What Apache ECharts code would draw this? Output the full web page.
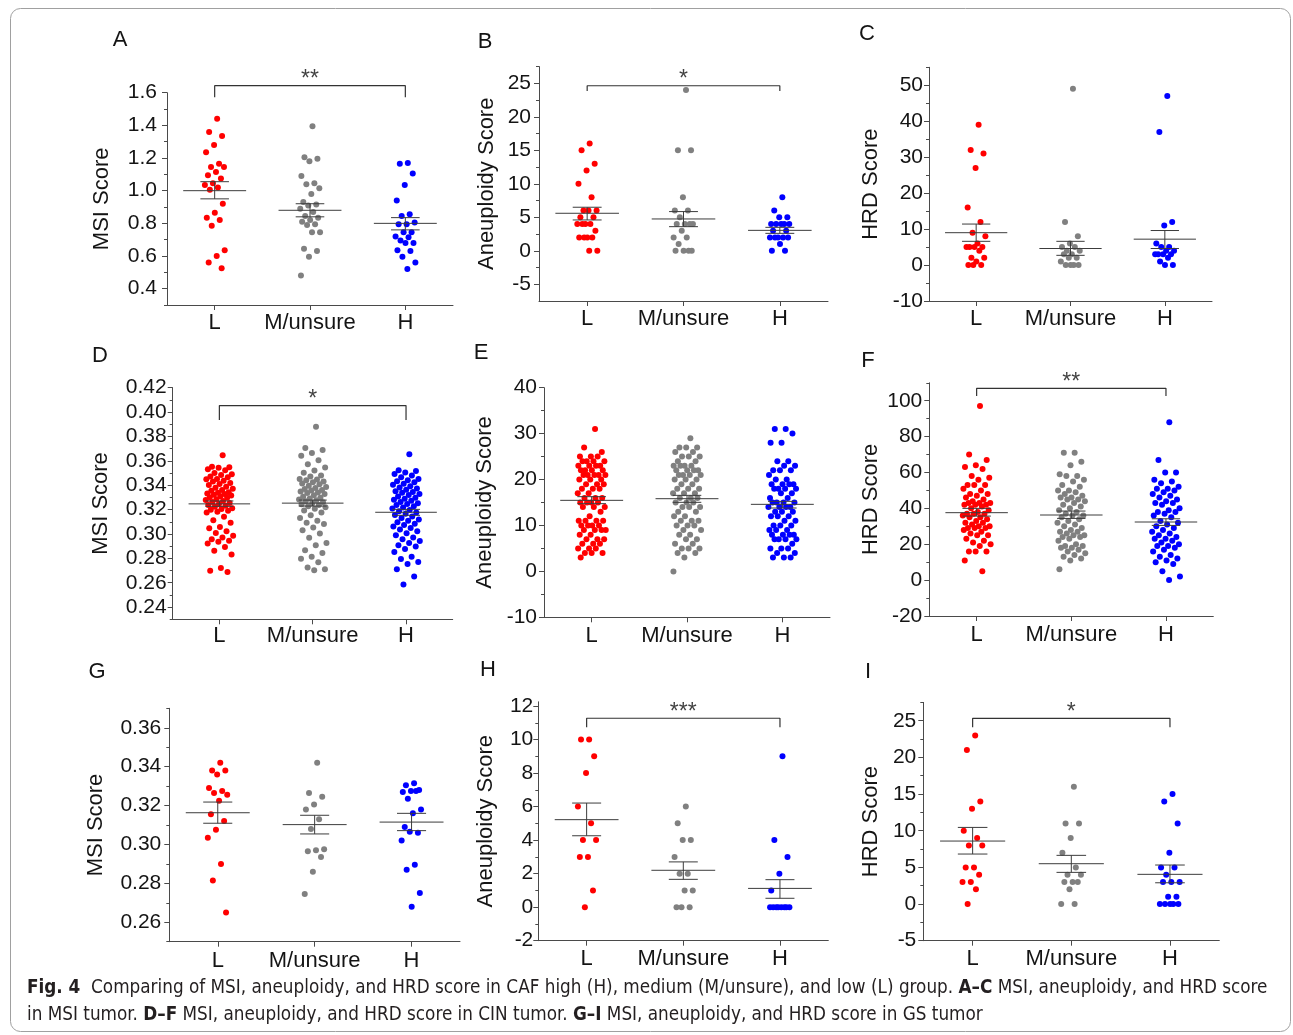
<!DOCTYPE html>
<html><head><meta charset="utf-8">
<script src="https://cdn.jsdelivr.net/npm/echarts@6/dist/echarts.min.js"></script>
<style>html,body{margin:0;padding:0;background:#fff}#c{width:1293px;height:1035px}</style>
</head><body><div id="c"></div>
<script>
// ---------------- data ----------------
const categories = ['L', 'M/unsure', 'H'];

// A: MSI score, MSI tumor
const A_L = [1.44,1.36,1.335,1.28,1.235,1.165,1.145,1.145,1.115,1.095,1.075,1.045,1.035,1.02,1.005,0.92,0.865,0.835,0.82,0.785,0.635,0.60,0.56,0.525];
const A_M = [1.395,1.205,1.195,1.18,1.09,1.045,1.04,1.015,0.98,0.93,0.915,0.91,0.89,0.87,0.845,0.835,0.82,0.81,0.795,0.79,0.745,0.745,0.645,0.63,0.595,0.48];
const A_H = [1.17,1.165,1.105,1.035,0.94,0.855,0.845,0.805,0.795,0.795,0.745,0.745,0.72,0.715,0.695,0.68,0.68,0.635,0.63,0.595,0.56,0.52];
const A_mean = [1.0, 0.88, 0.80], A_hi = [1.055, 0.92, 0.835], A_lo = [0.95, 0.84, 0.76];
const A_ticks = [0.4,0.6,0.8,1.0,1.2,1.4,1.6], A_minor = [0.3,0.5,0.7,0.9,1.1,1.3,1.5];
const A_bracket = [1.643, 1.572], A_stars = '**';

// B: Aneuploidy score, MSI tumor
const B_L = [16,15,13,12,10,8,6,6,6,5,5,4,4,4,4,3,2,2,2,2,0,0];
const B_M = [24,15,15,8,6,6,5,4,4,4,4,3,2,2,1,0,0,0,0];
const B_H = [8,6,5,5,4,4,4,4,4,3,3,2,2,2,2,2,1,0,0];
const B_mean = [5.6, 4.75, 3.05], B_hi = [6.5, 5.85, 3.5], B_lo = [4.6, 3.6, 2.6];
const B_ticks = [-5,0,5,10,15,20,25], B_minor = [-2.5,2.5,7.5,12.5,17.5,22.5,27.5];
const B_bracket = [24.64, 23.85], B_stars = '*';

// C: HRD score, MSI tumor
const C_L = [39,32,31,27,16,12,9,8,6,5,5,5,5,4,2,2,1,0,0,0];
const C_M = [49,12,8,6,5,5,4,4,3,3,2,2,1,0,0,0,0];
const C_H = [47,37,12,11,6,5,5,4,4,3,3,3,3,2,1,0,0];
const C_mean = [9.0, 4.6, 7.2], C_hi = [11.4, 6.6, 9.6], C_lo = [6.6, 2.7, 4.6];
const C_ticks = [-10,0,10,20,30,40,50], C_minor = [-5,5,15,25,35,45,55];

// D: MSI score, CIN tumor
const D_L = [0.3645,0.3552,0.3547,0.3543,0.3531,0.3522,0.3501,0.3489,0.3484,0.3471,0.3466,0.3452,0.3449,0.3437,0.3431,0.3418,0.3409,0.3401,0.3387,0.3379,0.3372,0.3360,0.3354,0.3343,0.3339,0.3333,0.3328,0.3321,0.3316,0.3309,0.3302,0.3297,0.3285,0.3279,0.3271,0.3263,0.3255,0.3246,0.3238,0.3231,0.3224,0.3212,0.3204,0.3199,0.3191,0.3183,0.3177,0.3141,0.3113,0.3092,0.3058,0.3046,0.3022,0.3009,0.2986,0.2971,0.2957,0.2944,0.2936,0.2921,0.2894,0.2862,0.2831,0.2721,0.2699,0.2688];
const D_M = [0.3880,0.3706,0.3688,0.3664,0.3641,0.3604,0.3572,0.3546,0.3521,0.3502,0.3479,0.3471,0.3452,0.3446,0.3440,0.3431,0.3424,0.3415,0.3407,0.3396,0.3386,0.3378,0.3369,0.3361,0.3356,0.3349,0.3341,0.3336,0.3327,0.3318,0.3306,0.3297,0.3291,0.3283,0.3276,0.3268,0.3261,0.3252,0.3244,0.3237,0.3228,0.3219,0.3207,0.3192,0.3176,0.3154,0.3131,0.3108,0.3093,0.3082,0.3054,0.3031,0.3004,0.2968,0.2925,0.2908,0.2866,0.2843,0.2813,0.2796,0.2768,0.2724,0.2711,0.2703];
const D_H = [0.3655,0.3523,0.3517,0.3504,0.3493,0.3479,0.3466,0.3450,0.3441,0.3433,0.3425,0.3412,0.3403,0.3392,0.3381,0.3373,0.3362,0.3351,0.3345,0.3338,0.3328,0.3319,0.3307,0.3298,0.3288,0.3281,0.3272,0.3263,0.3252,0.3246,0.3237,0.3227,0.3218,0.3208,0.3197,0.3187,0.3176,0.3165,0.3155,0.3143,0.3132,0.3119,0.3109,0.3097,0.3083,0.3073,0.3062,0.3048,0.3036,0.3022,0.3005,0.2989,0.2972,0.2957,0.2942,0.2926,0.2907,0.2897,0.2876,0.2852,0.2813,0.2794,0.2771,0.2753,0.2711,0.2652,0.2586];
const D_mean = [0.3247, 0.3253, 0.3178], D_hi = [0.3271, 0.3278, 0.3202], D_lo = [0.3227, 0.3229, 0.3153];
const D_ticks = [0.24,0.26,0.28,0.30,0.32,0.34,0.36,0.38,0.40,0.42], D_minor = [0.23,0.25,0.27,0.29,0.31,0.33,0.35,0.37,0.39,0.41];
const D_bracket = [0.4053, 0.3936], D_stars = '*';

// E: Aneuploidy score, CIN tumor
const E_L = [31,27,26,25,25,25,24,24,24,24,23,23,23,23,22,22,22,22,21,21,21,21,21,20,20,20,19,19,19,18,18,18,17,17,16,16,16,15,15,15,15,14,14,14,13,12,11,11,11,11,10,10,10,10,9,9,9,9,8,8,7,7,7,6,6,6,5,5,5,4,4,4,3];
const E_M = [29,27,27,27,26,26,25,25,25,24,24,23,23,23,23,22,22,22,22,21,21,21,21,20,20,20,19,19,18,18,18,17,17,17,16,16,16,15,15,15,14,14,14,13,13,12,12,11,11,11,10,10,10,9,9,8,8,7,7,6,6,5,5,5,4,4,3,0];
const E_H = [31,31,30,28,28,24,24,23,23,22,22,22,21,20,20,19,19,19,19,18,18,18,18,17,17,16,16,15,15,15,15,14,14,14,14,13,13,13,12,12,12,11,11,10,10,10,9,9,9,8,8,8,8,7,7,7,7,6,5,5,5,4,4,3,3,3];
const E_mean = [15.47, 15.83, 14.6], E_hi = [16.27, 16.56, 15.25], E_lo = [14.75, 15.04, 13.8];
const E_ticks = [-10,0,10,20,30,40], E_minor = [-5,5,15,25,35];

// F: HRD score, CIN tumor
const F_L = [97,70,67,64,63,62,58,57,56,53,53,53,51,50,48,48,47,46,45,44,43,43,43,42,42,42,41,40,39,38,37,37,37,36,35,35,34,33,32,32,31,30,30,29,29,29,28,27,26,25,25,23,22,21,20,19,16,16,16,11,5];
const F_M = [71,71,66,64,59,58,58,56,55,53,52,50,50,49,48,47,46,46,45,45,44,43,42,41,40,39,38,37,36,36,35,34,33,32,31,30,29,28,27,27,26,25,25,24,24,23,22,20,19,19,18,18,17,16,15,14,13,12,11,6];
const F_H = [88,67,60,60,56,55,54,52,51,51,50,49,48,47,46,45,44,43,43,42,40,39,38,38,37,36,35,33,32,31,30,29,28,27,26,25,24,23,23,22,21,20,19,19,18,17,16,14,13,12,11,10,9,5,2,0];
const F_mean = [37.6, 36.3, 32.4], F_hi = [40.0, 38.5, 34.2], F_lo = [35.7, 34.4, 30.5];
const F_ticks = [-20,0,20,40,60,80,100], F_minor = [-10,10,30,50,70,90,110];
const F_bracket = [106.9, 102.6], F_stars = '**';

// G: MSI score, GS tumor
const G_L = [0.342,0.338,0.338,0.336,0.329,0.3275,0.3265,0.3255,0.3225,0.3155,0.312,0.3075,0.3035,0.29,0.2815,0.265];
const G_M = [0.342,0.3265,0.3245,0.3205,0.318,0.313,0.308,0.2975,0.297,0.2965,0.2935,0.286,0.2745];
const G_H = [0.3315,0.3305,0.328,0.3275,0.327,0.3275,0.3235,0.318,0.316,0.309,0.306,0.3065,0.302,0.2895,0.287,0.275,0.268];
const G_mean = [0.3163, 0.3102, 0.3115], G_hi = [0.3218, 0.315, 0.316], G_lo = [0.3109, 0.3054, 0.3071];
const G_ticks = [0.26,0.28,0.30,0.32,0.34,0.36], G_minor = [0.25,0.27,0.29,0.31,0.33,0.35,0.37];

// H: Aneuploidy score, GS tumor
const H_L = [10,10,9,8,6,5,4,4,3,3,1,0];
const H_M = [6,5,4,4,3,2,2,1,1,0,0,0];
const H_H = [9,4,3,2,1,0,0,0,0,0,0,0,0];
const H_mean = [5.22, 2.2, 1.12], H_hi = [6.21, 2.7, 1.64], H_lo = [4.26, 1.66, 0.53];
const H_ticks = [-2,0,2,4,6,8,10,12], H_minor = [-1,1,3,5,7,9,11];
const H_bracket = [11.27, 10.73], H_stars = '***';

// I: HRD score, GS tumor
const I_L = [23,21,14,13,10,9,8,8,5,5,4,3,3,2,0];
const I_M = [16,11,11,9,7,5,4,4,3,3,3,2,0,0];
const I_H = [15,14,11,7,5,5,4,3,3,3,1,1,0,0,0,0,0];
const I_mean = [8.59, 5.5, 4.05], I_hi = [10.45, 6.64, 5.32], I_lo = [6.82, 4.32, 2.9];
const I_ticks = [-5,0,5,10,15,20,25], I_minor = [-2.5,2.5,7.5,12.5,17.5,22.5,27.5];
const I_bracket = [25.33, 24.1], I_stars = '*';

// ---------------- layout / style ----------------
const FONT = "'Liberation Sans', Arial, sans-serif";
const TXT = '#141414', AX = '#4a4a4a', MEANC = '#3c3c3c';
const COLORS = ['#ff0000', '#808080', '#0000ff'];

const panels = [
  {id:'A', data:[A_L,A_M,A_H], mean:A_mean, hi:A_hi, lo:A_lo, ticks:A_ticks, minor:A_minor, min:0.3, max:1.6, dec:1, name:'MSI Score', bracket:A_bracket, stars:A_stars,
   box:[167,92.7,453,305], nameGap:54, lm:10, xm:7, jit:0.11, letter:[120,40]},
  {id:'B', data:[B_L,B_M,B_H], mean:B_mean, hi:B_hi, lo:B_lo, ticks:B_ticks, minor:B_minor, min:-7.5, max:27.5, dec:0, name:'Aneuploidy Score', bracket:B_bracket, stars:B_stars,
   box:[539,66.6,828,301], nameGap:41, lm:8, xm:7, jit:0.11, letter:[485,42]},
  {id:'C', data:[C_L,C_M,C_H], mean:C_mean, hi:C_hi, lo:C_lo, ticks:C_ticks, minor:C_minor, min:-10, max:55, dec:0, name:'HRD Score', bracket:null,
   box:[929,67.3,1212,301], nameGap:47, lm:6, xm:7, jit:0.11, letter:[867,34]},
  {id:'D', data:[D_L,D_M,D_H], mean:D_mean, hi:D_hi, lo:D_lo, ticks:D_ticks, minor:D_minor, min:0.23, max:0.42, dec:2, name:'MSI Score', bracket:D_bracket, stars:D_stars,
   box:[172.7,387.7,452.7,619.3], nameGap:61, lm:6, xm:6, jit:0.15, letter:[100,356]},
  {id:'E', data:[E_L,E_M,E_H], mean:E_mean, hi:E_hi, lo:E_lo, ticks:E_ticks, minor:E_minor, min:-10, max:40, dec:0, name:'Aneuploidy Score', bracket:null,
   box:[544,387.7,830,617.3], nameGap:48, lm:7, xm:8, jit:0.15, letter:[481,353]},
  {id:'F', data:[F_L,F_M,F_H], mean:F_mean, hi:F_hi, lo:F_lo, ticks:F_ticks, minor:F_minor, min:-20, max:110, dec:0, name:'HRD Score', bracket:F_bracket, stars:F_stars,
   box:[929.3,382.8,1213.3,616], nameGap:47, lm:7, xm:8, jit:0.15, letter:[868,361]},
  {id:'G', data:[G_L,G_M,G_H], mean:G_mean, hi:G_hi, lo:G_lo, ticks:G_ticks, minor:G_minor, min:0.25, max:0.37, dec:2, name:'MSI Score', bracket:null,
   box:[169.3,708.3,460,941.7], nameGap:62, lm:8, xm:8, jit:0.11, letter:[97,672]},
  {id:'H', data:[H_L,H_M,H_H], mean:H_mean, hi:H_hi, lo:H_lo, ticks:H_ticks, minor:H_minor, min:-2, max:12.25, dec:0, name:'Aneuploidy Score', bracket:H_bracket, stars:H_stars,
   box:[538.3,701.8,828.3,940.7], nameGap:41, lm:5, xm:7, jit:0.11, letter:[488,670]},
  {id:'I', data:[I_L,I_M,I_H], mean:I_mean, hi:I_hi, lo:I_lo, ticks:I_ticks, minor:I_minor, min:-5, max:27.5, dec:0, name:'HRD Score', bracket:I_bracket, stars:I_stars,
   box:[923.3,702.4,1219.3,940.7], nameGap:41, lm:7, xm:7, jit:0.11, letter:[868,672]}
];

// deterministic horizontal spread (golden-ratio sequence), layout only
function spread(i) { const f = ((i + 1) * 0.6180339887) % 1; return f * 2 - 1; }
function fmt(v, dec) { return dec ? v.toFixed(dec) : String(Math.round(v)); }

function renderMean(params, api) {
  const c = api.value(0), m = api.value(1), hi = api.value(2), lo = api.value(3);
  const seg = (x1, y1, x2, y2) => {
    const a = api.coord([x1, y1]), b = api.coord([x2, y2]);
    return {type:'line', shape:{x1:a[0], y1:a[1], x2:b[0], y2:b[1]}, style:{stroke:MEANC, lineWidth:1}};
  };
  return {type:'group', children:[
    seg(c - 0.33, m, c + 0.33, m),
    seg(c - 0.15, hi, c + 0.15, hi),
    seg(c - 0.15, lo, c + 0.15, lo),
    seg(c, hi, c, lo)
  ]};
}

const grid = [], xAxis = [], yAxis = [], series = [], graphic = [];
panels.forEach((p, k) => {
  const [l, t, r, b] = p.box;
  grid.push({left:l, top:t, width:r - l, height:b - t, containLabel:false});
  xAxis.push({type:'value', gridIndex:k, min:0.5, max:3.5,
    axisLine:{show:true, onZero:false, lineStyle:{color:AX, width:1}},
    axisTick:{show:true, customValues:[1,2,3], length:5, lineStyle:{color:AX}},
    axisLabel:{show:true, customValues:[1,2,3], formatter:v => categories[Math.round(v) - 1], fontSize:22, color:TXT, fontFamily:FONT, margin:p.xm},
    splitLine:{show:false}});
  yAxis.push({type:'value', gridIndex:k, position:'left', min:p.min, max:p.max,
    name:p.name, nameLocation:'middle', nameGap:p.nameGap, nameTextStyle:{fontSize:22, color:TXT, fontFamily:FONT},
    axisLine:{show:true, onZero:false, lineStyle:{color:AX, width:1}},
    axisTick:{show:true, customValues:p.ticks, length:5, lineStyle:{color:AX}},
    axisLabel:{show:true, customValues:p.ticks, formatter:v => fmt(v, p.dec), fontSize:21, color:TXT, fontFamily:FONT, margin:p.lm},
    splitLine:{show:false}});
  yAxis.push({type:'value', gridIndex:k, position:'left', min:p.min, max:p.max,
    axisLine:{show:false}, axisLabel:{show:false}, splitLine:{show:false},
    axisTick:{show:true, customValues:p.minor, length:3, lineStyle:{color:AX}}});
  const yi = 2 * k;
  p.data.forEach((vals, c) => {
    series.push({type:'scatter', xAxisIndex:k, yAxisIndex:yi, symbol:'circle', symbolSize:6, silent:true, z:2,
      itemStyle:{color:COLORS[c], opacity:1},
      data: vals.map((v, i) => [c + 1 + spread(i) * p.jit, v])});
  });
  series.push({type:'custom', xAxisIndex:k, yAxisIndex:yi, silent:true, z:5, renderItem:renderMean,
    encode:{x:0, y:1},
    data:[0,1,2].map(c => [c + 1, p.mean[c], p.hi[c], p.lo[c]])});
  if (p.bracket) {
    series.push({type:'line', xAxisIndex:k, yAxisIndex:yi, silent:true, clip:false, symbol:'none', z:5,
      lineStyle:{color:'#333', width:1.2},
      data:[[1, p.bracket[1]], [1, p.bracket[0]], [3, p.bracket[0]], [3, p.bracket[1]]]});
    series.push({type:'scatter', xAxisIndex:k, yAxisIndex:yi, silent:true, clip:false, symbolSize:1, z:5,
      itemStyle:{color:'rgba(0,0,0,0)'},
      label:{show:true, position:'top', distance:-6, formatter:p.stars, fontSize:23, color:'#111', fontFamily:FONT},
      data:[[2, p.bracket[0]]]});
  }
  graphic.push({type:'text', x:p.letter[0], y:p.letter[1], silent:true,
    style:{text:p.id, fontSize:22, fontFamily:FONT, fill:TXT, align:'center', verticalAlign:'middle'}});
});

// frame
graphic.push({type:'rect', silent:true, z:-10, shape:{x:10.5, y:8.5, width:1280, height:1023, r:10},
  style:{fill:'none', stroke:'#a0a0a0', lineWidth:1}});

// caption
const CAP_FONT = "'Liberation Sans Narrow', 'DejaVu Sans Condensed', 'Liberation Sans', sans-serif";
const cap1 = [['Fig. 4', 1], ['  Comparing of MSI, aneuploidy, and HRD score in CAF high (H), medium (M/unsure), and low (L) group. ', 0], ['A\u2013C', 1], [' MSI, aneuploidy, and HRD score', 0]];
const cap2 = [['in MSI tumor. ', 0], ['D\u2013F', 1], [' MSI, aneuploidy, and HRD score in CIN tumor. ', 0], ['G\u2013I', 1], [' MSI, aneuploidy, and HRD score in GS tumor', 0]];
const mctx = document.createElement('canvas').getContext('2d');
function partsWidth(parts, size) {
  let w = 0;
  parts.forEach(([s, b]) => { mctx.font = (b ? 'bold ' : '') + size + 'px ' + CAP_FONT; w += mctx.measureText(s).width; });
  return w;
}
const capSize = Math.min(19, 18 * 1241 / partsWidth(cap1, 18));
const rich = {b:{fontWeight:'bold', fontSize:capSize, fontFamily:CAP_FONT, fill:'#231f20'},
              n:{fontWeight:'normal', fontSize:capSize, fontFamily:CAP_FONT, fill:'#231f20'}};
const toRich = parts => parts.map(([s, b]) => '{' + (b ? 'b' : 'n') + '|' + s + '}').join('');
graphic.push({type:'text', x:27, y:988, silent:true, style:{text:toRich(cap1), rich:rich, fontSize:capSize, fontFamily:CAP_FONT, verticalAlign:'middle', align:'left'}});
graphic.push({type:'text', x:27, y:1015, silent:true, style:{text:toRich(cap2), rich:rich, fontSize:capSize, fontFamily:CAP_FONT, verticalAlign:'middle', align:'left'}});

const chart = echarts.init(document.getElementById('c'), null, {renderer:'canvas', width:1293, height:1035});
chart.setOption({
  backgroundColor:'#ffffff',
  animation:false,
  textStyle:{fontFamily:FONT},
  grid, xAxis, yAxis, series, graphic
});
</script></body></html>
